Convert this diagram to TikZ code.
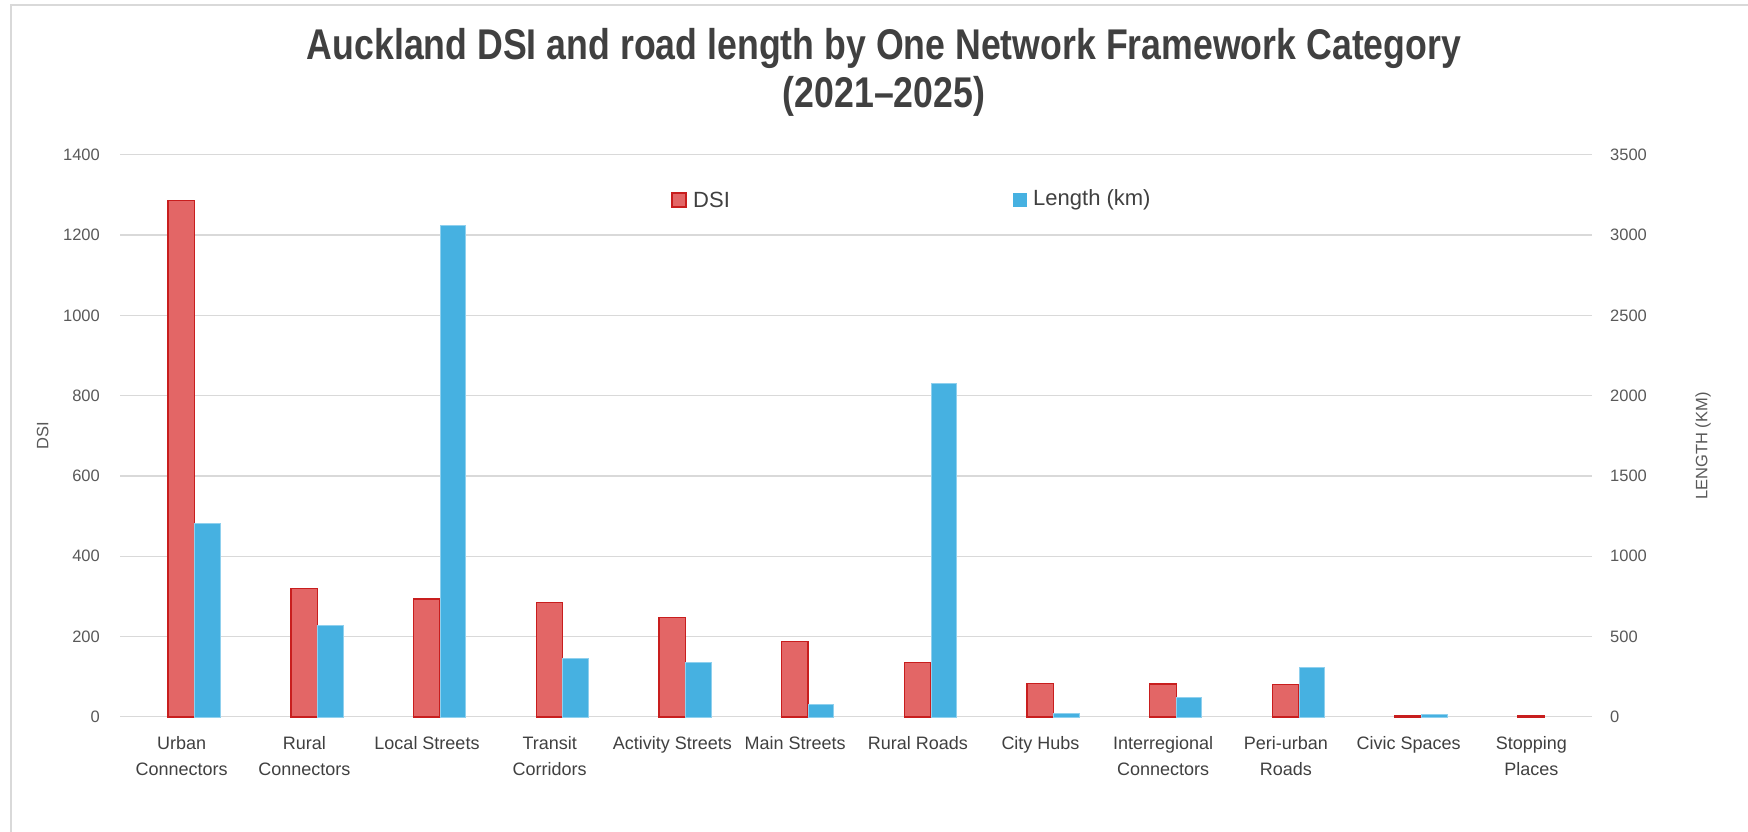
\documentclass[tikz,border=0pt]{standalone}
\usepackage{fontspec}
\setmainfont{Liberation Sans}
\newfontfamily\titlefont[FakeStretch=0.83]{Liberation Sans}
\definecolor{titlecol}{HTML}{404040}
\definecolor{tickcol}{HTML}{595959}
\definecolor{gridcol}{HTML}{D9D9D9}
\definecolor{framecol}{HTML}{D9D9D9}
\definecolor{dsifill}{HTML}{E36666}
\definecolor{dsiedge}{HTML}{C81E1E}
\definecolor{lenfill}{HTML}{46B1E1}
\definecolor{lenedge}{HTML}{8FD0EE}
\begin{document}
\begin{tikzpicture}[x=1pt,y=-1pt,
  gridline/.style={draw=gridcol, line width=1.3pt},
  ticklab/.style={text=tickcol, font=\fontsize{16.5}{19}\selectfont, inner sep=0pt},
  axtitle/.style={text=tickcol, font=\fontsize{16.5}{19}\selectfont, inner sep=0pt},
  catlabel/.style={text=titlecol, font=\fontsize{18}{26}\selectfont, align=center, inner sep=0pt},
  legtext/.style={text=titlecol, font=\fontsize{22}{26}\selectfont, inner sep=0pt},
  dsibar/.style={fill=dsifill, draw=dsiedge, line width=1.4pt},
  lenbar/.style={fill=lenfill, draw=lenedge, line width=0.6pt},
  titlestyle/.style={text=titlecol, font=\titlefont\bfseries\fontsize{43}{48}\selectfont, align=center, inner sep=0pt}
]
\useasboundingbox (0,0) rectangle (1748,832);
\fill[white] (0,0) rectangle (1748,832);
\draw[framecol, line width=1.5pt] (11,832) -- (11,5) -- (1748,5);

% title
\node[titlestyle] (title) at (884,72) {Auckland DSI and road length by One Network Framework Category\\(2021–2025)};

% gridlines and tick labels
\foreach \v [count=\i from 0] in {0,200,400,600,800,1000,1200,1400} {
  \pgfmathsetmacro\yy{716.8-\v*0.40143}
  \pgfmathtruncatemacro\rv{\v*2.5}
  \coordinate (gl\i) at (120.2,\yy);
  \coordinate (gr\i) at (1592.4,\yy);
  \draw[gridline] (gl\i) -- (gr\i);
  \node[ticklab, anchor=east] (lt\i) at (100,\yy) {\v};
  \node[ticklab, anchor=west] (rt\i) at (1610,\yy) {\rv};
}

% bars
\foreach \d/\l [count=\i from 0] in {1286/1205, 319/572, 293/3061, 285/362, 247/337, 187/80, 136/2077, 83.5/22, 82/121, 80/310, 4/14, 2/0} {
  \pgfmathsetmacro\c{181.6+122.7*\i}
  \pgfmathsetmacro\yd{716.8-\d*0.40143}
  \pgfmathsetmacro\yl{716.8-\l/2.5*0.40143}
  \draw[dsibar] (\c-13.5,716.8) rectangle (\c+13,\yd);
  \pgfmathparse{\l>0}
  \ifnum\pgfmathresult=1
    \draw[lenbar] (\c+13,716.8) rectangle (\c+38.5,\yl);
  \fi
}

% category labels
\foreach \lab [count=\i from 0] in {{Urban\\Connectors},{Rural\\Connectors},{Local Streets},{Transit\\Corridors},{Activity Streets},{Main Streets},{Rural Roads},{City Hubs},{Interregional\\Connectors},{Peri-urban\\Roads},{Civic Spaces},{Stopping\\Places}} {
  \pgfmathsetmacro\c{181.6+122.7*\i}
  \node[catlabel, anchor=north] (cat\i) at (\c,736.5) {\lab};
}

% axis titles
\node[axtitle, rotate=90] (dsititle) at (42.7,436) {DSI};
\node[axtitle, rotate=90] (lentitle) at (1703,446) {LENGTH (KM)};

% legend
\node[fill=dsifill, draw=dsiedge, line width=1.2pt, minimum size=14pt, inner sep=0pt] (legdsi) at (679,200) {};
\node[legtext, anchor=west] (legdsitext) at (693,200) {DSI};
\node[fill=lenfill, minimum size=14pt, inner sep=0pt] (leglen) at (1019.5,200) {};
\node[legtext, anchor=west] (leglentext) at (1033,200) {Length (km)};
\end{tikzpicture}
\end{document}
